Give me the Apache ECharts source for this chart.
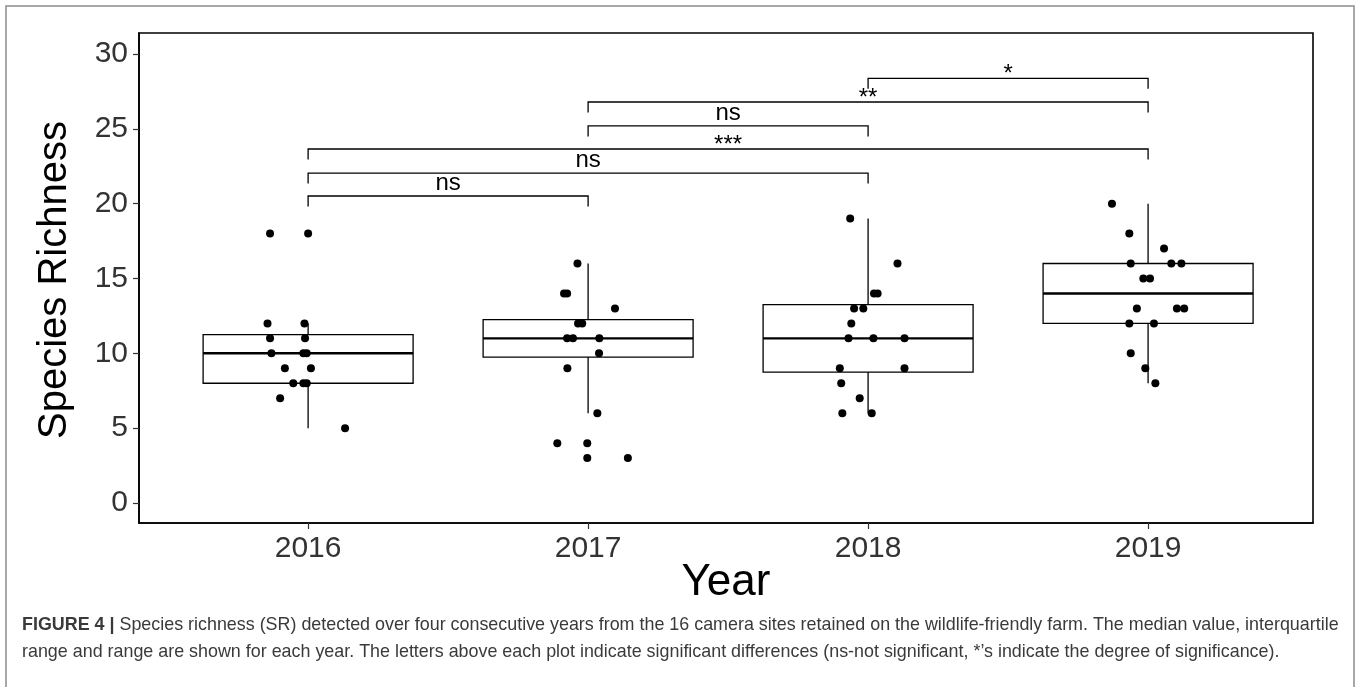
<!DOCTYPE html>
<html>
<head>
<meta charset="utf-8">
<script src="https://cdn.jsdelivr.net/npm/echarts@6/dist/echarts.min.js"></script>
<style>
  html, body { margin: 0; padding: 0; background: #fff; }
  #chart { width: 1360px; height: 687px; }
</style>
</head>
<body>
<div id="chart"></div>
<script>
// Years on the x axis (plotted at positions 1..4)
const years = ['2016', '2017', '2018', '2019'];
const yTicks = [0, 5, 10, 15, 20, 25, 30];

// Box statistics per year: [lower whisker, Q1, median, Q3, upper whisker]
const box2016 = [5, 8, 10, 11.25, 12];
const box2017 = [6, 9.75, 11, 12.25, 16];
const box2018 = [6, 8.75, 11, 13.25, 19];
const box2019 = [8, 12, 14, 16, 20];

// Species richness per camera site, and the horizontal jitter of each dot
const sr2016  = [18, 18, 12, 12, 11, 11, 10, 10, 10, 9, 9, 8, 8, 8, 7, 5];
const jit2016 = [-0.136, 0.0, -0.145, -0.013, -0.136, -0.011, -0.131, -0.017, -0.005, -0.083, 0.010, -0.053, -0.017, -0.005, -0.100, 0.132];

const sr2017  = [16, 14, 14, 13, 12, 12, 11, 11, 11, 10, 9, 6, 4, 4, 3, 3];
const jit2017 = [-0.038, -0.086, -0.075, 0.096, -0.036, -0.021, -0.075, -0.054, 0.040, 0.039, -0.074, 0.033, -0.110, -0.003, -0.003, 0.142];

const sr2018  = [19, 16, 14, 14, 13, 13, 12, 11, 11, 11, 9, 9, 8, 7, 6, 6];
const jit2018 = [-0.064, 0.105, 0.021, 0.034, -0.050, -0.017, -0.060, -0.070, 0.019, 0.130, -0.101, 0.130, -0.096, -0.030, -0.092, 0.013];

const sr2019  = [20, 18, 17, 16, 16, 16, 15, 15, 13, 13, 13, 12, 12, 10, 9, 8];
const jit2019 = [-0.129, -0.067, 0.057, -0.062, 0.083, 0.119, -0.017, 0.007, -0.040, 0.103, 0.129, -0.067, 0.021, -0.062, -0.010, 0.026];

// Pairwise comparisons: year positions, bracket height and significance label
const pairFrom  = [3, 2, 2, 1, 1, 1];
const pairTo    = [4, 4, 3, 4, 3, 2];
const pairLevel = [28.37, 26.79, 25.19, 23.65, 22.04, 20.51];
const pairLabel = ['*', '**', 'ns', '***', 'ns', 'ns'];

const FONT = '"Liberation Sans", Arial, sans-serif';

const boxes = [box2016, box2017, box2018, box2019];
const values = [sr2016, sr2017, sr2018, sr2019];
const jitters = [jit2016, jit2017, jit2018, jit2019];

const boxData = boxes.map((b, i) => [i + 1].concat(b));
const pointData = [];
values.forEach((vals, i) => {
  vals.forEach((v, j) => pointData.push([i + 1 + jitters[i][j], v]));
});
const pairData = pairFrom.map((f, i) => [f, pairTo[i], pairLevel[i]]);

const chart = echarts.init(document.getElementById('chart'), null, { renderer: 'canvas' });

const option = {
  animation: false,
  backgroundColor: '#fff',
  grid: {
    left: 139, top: 33, width: 1174, height: 490,
    show: true, borderColor: '#000', borderWidth: 1.6, backgroundColor: 'transparent'
  },
  xAxis: {
    type: 'value',
    position: 'bottom',
    min: 0.396, max: 4.589,
    splitLine: { show: false },
    axisLine: { show: true, onZero: false, lineStyle: { color: '#000', width: 1.6 } },
    axisTick: { show: true, inside: false, length: 6, lineStyle: { color: '#333', width: 1.2 }, customValues: [1, 2, 3, 4] },
    axisLabel: {
      customValues: [1, 2, 3, 4],
      formatter: v => years[Math.round(v) - 1],
      fontFamily: FONT, fontSize: 30, color: '#333', margin: 11
    }
  },
  yAxis: {
    type: 'value',
    position: 'left',
    min: -1.336, max: 31.4,
    splitLine: { show: false },
    axisLine: { show: true, onZero: false, lineStyle: { color: '#000', width: 1.6 } },
    axisTick: { show: true, inside: false, length: 6, lineStyle: { color: '#333', width: 1.2 }, customValues: yTicks },
    axisLabel: {
      customValues: yTicks,
      fontFamily: FONT, fontSize: 30, color: '#333', margin: 11
    }
  },
  graphic: [
    {
      type: 'rect', silent: true,
      shape: { x: 6, y: 6, width: 1348, height: 720 },
      style: { fill: 'none', stroke: '#8c8c8c', lineWidth: 1.5 }
    },
    {
      type: 'text', silent: true,
      x: 55, y: 280, rotation: Math.PI / 2,
      style: {
        text: 'Species Richness', font: '40px ' + FONT, fill: '#000',
        align: 'center', verticalAlign: 'middle'
      }
    },
    {
      type: 'text', silent: true,
      x: 726, y: 583,
      style: {
        text: 'Year', font: '44px ' + FONT, fill: '#000',
        align: 'center', verticalAlign: 'middle'
      }
    },
    {
      type: 'text', silent: true, x: 22, y: 625,
      style: {
        text: '{b|FIGURE 4 |} Species richness (SR) detected over four consecutive years from the 16 camera sites retained on the wildlife-friendly farm. The median value, interquartile',
        font: '17.9px ' + FONT, fill: '#3a3a3a', verticalAlign: 'middle',
        rich: { b: { fontWeight: 'bold', fontSize: 17.9, fontFamily: FONT, fill: '#3a3a3a' } }
      }
    },
    {
      type: 'text', silent: true, x: 22, y: 652,
      style: {
        text: 'range and range are shown for each year. The letters above each plot indicate significant differences (ns-not significant, *’s indicate the degree of significance).',
        font: '17.9px ' + FONT, fill: '#3a3a3a', verticalAlign: 'middle'
      }
    }
  ],
  series: [
    {
      // box and whiskers for each year
      type: 'custom',
      data: boxData,
      z: 2,
      renderItem: function (params, api) {
        const x = api.value(0);
        const lo = api.coord([x, api.value(1)]);
        const q1 = api.coord([x, api.value(2)]);
        const md = api.coord([x, api.value(3)]);
        const q3 = api.coord([x, api.value(4)]);
        const hi = api.coord([x, api.value(5)]);
        const w = api.size([0.75, 0])[0];
        const cx = lo[0];
        const ls = { stroke: '#000', lineWidth: 1.3 };
        return {
          type: 'group',
          children: [
            { type: 'line', shape: { x1: cx, y1: q3[1], x2: cx, y2: hi[1] }, style: ls },
            { type: 'line', shape: { x1: cx, y1: q1[1], x2: cx, y2: lo[1] }, style: ls },
            { type: 'rect', shape: { x: cx - w / 2, y: q3[1], width: w, height: q1[1] - q3[1] },
              style: { fill: '#fff', stroke: '#000', lineWidth: 1.3 } },
            { type: 'line', shape: { x1: cx - w / 2, y1: md[1], x2: cx + w / 2, y2: md[1] },
              style: { stroke: '#000', lineWidth: 2.4 } }
          ]
        };
      }
    },
    {
      // jittered site values
      type: 'scatter',
      data: pointData,
      z: 3,
      symbol: 'circle',
      symbolSize: 8,
      itemStyle: { color: '#000', opacity: 1 },
      silent: true
    },
    {
      // significance brackets
      type: 'custom',
      data: pairData,
      z: 4,
      renderItem: function (params, api) {
        const lv = api.value(2);
        const a = api.coord([api.value(0), lv]);
        const b = api.coord([api.value(1), lv]);
        const tip = api.coord([api.value(0), lv - 0.7])[1];
        const label = pairLabel[params.dataIndex];
        const isStar = label.indexOf('*') >= 0;
        return {
          type: 'group',
          children: [
            { type: 'polyline',
              shape: { points: [[a[0], tip], [a[0], a[1]], [b[0], b[1]], [b[0], tip]] },
              style: { stroke: '#000', lineWidth: 1.3, fill: 'none' } },
            { type: 'text', x: (a[0] + b[0]) / 2, y: a[1] - (isStar ? 4 : 13),
              style: { text: label, font: '24px ' + FONT, fill: '#000', align: 'center', verticalAlign: 'middle' } }
          ]
        };
      }
    }
  ]
};

chart.setOption(option);
</script>
</body>
</html>
